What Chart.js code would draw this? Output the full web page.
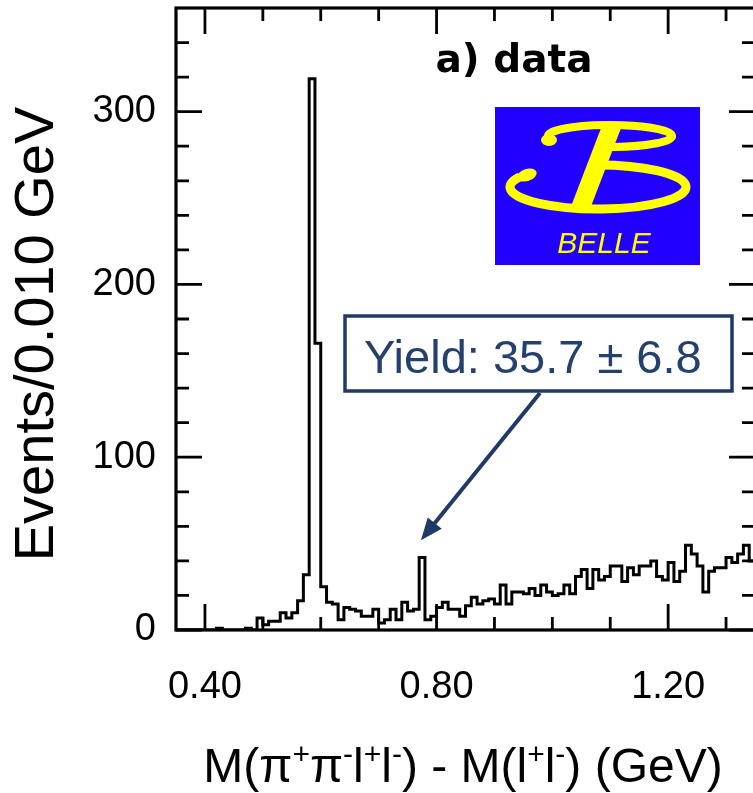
<!DOCTYPE html>
<html>
<head>
<meta charset="utf-8">
<script src="https://cdn.jsdelivr.net/npm/chart.js@4.4.0/dist/chart.umd.min.js"></script>
<style>
  html, body { margin: 0; padding: 0; background: #fff; overflow: hidden; }
  #wrap { position: relative; width: 756px; height: 793px; }
</style>
</head>
<body>
<div id="wrap"><canvas id="chart" width="756" height="793"></canvas></div>
<script>
// ---------- Data ----------
const binStart = 0.35;   // GeV, left edge of first bin
const binWidth = 0.010;  // GeV
const counts = [
  0, 0, 0, 0, 0, 0, 0, 1, 0, 0,          // 0.35 - 0.45
  0, 0, 1, 0, 7, 3, 5, 5, 10, 7,         // 0.45 - 0.55
  10, 17, 32, 319, 166, 25, 16, 15, 6, 13, // 0.55 - 0.65
  12, 11, 8, 8, 12, 4, 6, 12, 6, 16,     // 0.65 - 0.75
  11, 12, 42, 6, 8, 13, 16, 12, 12, 8,   // 0.75 - 0.85
  14, 19, 15, 17, 18, 15, 26, 15, 22, 22, // 0.85 - 0.95
  21, 24, 20, 26, 22, 20, 21, 26, 21, 31, // 0.95 - 1.05
  35, 24, 35, 29, 31, 37, 37, 28, 36, 32, // 1.05 - 1.15
  37, 37, 40, 31, 29, 39, 28, 34, 49, 44, // 1.15 - 1.25
  37, 22, 34, 36, 36, 42, 39, 44, 49, 40  // 1.25 - 1.35
];

const xRange = [0.35, 1.35];
const yRange = [0, 360];
const xTickValues = [0.40, 0.80, 1.20];
const xTickLabels = ["0.40", "0.80", "1.20"];
const xMinorTicks = [0.4, 0.5, 0.6, 0.7, 0.8, 0.9, 1.0, 1.1, 1.2, 1.3];
const yTickValues = [0, 100, 200, 300];
const yTickLabels = ["0", "100", "200", "300"];
const yMinorTicks = [20, 40, 60, 80, 100, 120, 140, 160, 180, 200, 220, 240, 260, 280, 300, 320, 340];

const yTitle = "Events/0.010 GeV";
// [text, isSuperscript]
const xTitleParts = [
  ["M(\u03c0", 0], ["+", 1], ["\u03c0", 0], ["-", 1], ["l", 0], ["+", 1], ["l", 0], ["-", 1],
  [") - M(l", 0], ["+", 1], ["l", 0], ["-", 1], [") (GeV)", 0]
];
const panelLabel = "a) data";
const yieldText = "Yield: 35.7 \u00b1 6.8";
const arrowTarget = [0.773, 52]; // GeV, events

const FONT = '"Liberation Sans", Arial, Helvetica, sans-serif';
const NAVY = "#203a68";

// ---------- Histogram points (left bin edges + closing edge) ----------
const histPoints = counts.map((c, i) => ({ x: binStart + i * binWidth, y: c }));
histPoints.push({ x: binStart + counts.length * binWidth, y: counts[counts.length - 1] });

const near = (a, b) => Math.abs(a - b) < 1e-6;

// ---------- Frame, inward ticks, titles and decorations ----------
const decor = {
  id: "decor",
  afterDatasetsDraw(chart) {
    const { ctx, chartArea: a, scales: { x, y } } = chart;
    ctx.save();
    ctx.strokeStyle = "#000";
    ctx.lineWidth = 3.2;
    ctx.strokeRect(a.left, a.top, a.right - a.left, a.bottom - a.top);

    ctx.lineWidth = 2.8;
    ctx.beginPath();
    xMinorTicks.forEach((v) => {
      const px = x.getPixelForValue(v);
      const len = xTickValues.some((t) => near(t, v)) ? 26 : 13;
      ctx.moveTo(px, a.bottom); ctx.lineTo(px, a.bottom - len);
      ctx.moveTo(px, a.top); ctx.lineTo(px, a.top + len);
    });
    yMinorTicks.concat([0]).forEach((v) => {
      const py = y.getPixelForValue(v);
      const len = yTickValues.some((t) => near(t, v)) ? 26 : 13;
      ctx.moveTo(a.left, py); ctx.lineTo(a.left + len, py);
      ctx.moveTo(a.right, py); ctx.lineTo(a.right - len, py);
    });
    ctx.stroke();
    ctx.restore();
  },
  afterDraw(chart) {
    const { ctx, scales: { x, y } } = chart;
    ctx.save();
    ctx.fillStyle = "#000";

    // y title
    ctx.save();
    ctx.translate(38, 334);
    ctx.rotate(-Math.PI / 2);
    ctx.font = "56px " + FONT;
    ctx.textAlign = "center";
    ctx.textBaseline = "middle";
    ctx.fillText(yTitle, 0, 0);
    ctx.restore();

    // x title with superscripts
    const base = "48px " + FONT, sup = "30px " + FONT;
    let total = 0;
    xTitleParts.forEach(([t, s]) => { ctx.font = s ? sup : base; total += ctx.measureText(t).width; });
    let cx = 463 - total / 2;
    ctx.textBaseline = "alphabetic";
    ctx.textAlign = "left";
    xTitleParts.forEach(([t, s]) => {
      ctx.font = s ? sup : base;
      ctx.fillText(t, cx, s ? 764 : 782);
      cx += ctx.measureText(t).width;
    });

    // panel label
    ctx.font = "bold 39px 'DejaVu Sans', sans-serif";
    ctx.textAlign = "center";
    ctx.fillText(panelLabel, 514, 72);

    // Belle logo
    const L = 495, T = 107;
    ctx.fillStyle = "#2200ff";
    ctx.fillRect(L, T, 205, 158);
    ctx.strokeStyle = "#ffff00";
    ctx.fillStyle = "#ffff00";
    ctx.lineWidth = 8;
    ctx.beginPath();
    ctx.ellipse(L + 115, T + 29, 62, 11, 0, Math.PI * 0.98, Math.PI * 2.52);
    ctx.stroke();
    ctx.beginPath();
    ctx.ellipse(L + 54, T + 33, 8, 6, 0, 0, Math.PI * 2);
    ctx.fill();
    ctx.lineWidth = 9;
    ctx.beginPath();
    ctx.ellipse(L + 103, T + 80, 88, 22, 0, -1.62, Math.PI + 0.48);
    ctx.stroke();
    ctx.beginPath();
    ctx.ellipse(L + 32, T + 68, 10, 6, -0.3, 0, Math.PI * 2);
    ctx.fill();
    ctx.beginPath();
    ctx.moveTo(L + 108, T + 16); ctx.lineTo(L + 128, T + 16);
    ctx.lineTo(L + 95, T + 102); ctx.lineTo(L + 75, T + 102);
    ctx.closePath();
    ctx.fill();
    ctx.font = "italic 30px " + FONT;
    ctx.textAlign = "center";
    ctx.fillText("BELLE", L + 109, T + 146);

    // yield box
    ctx.strokeStyle = NAVY;
    ctx.lineWidth = 3.5;
    ctx.strokeRect(345, 316, 387, 75);
    ctx.fillStyle = "#24406e";
    ctx.font = "47px " + FONT;
    ctx.textAlign = "left";
    ctx.fillText(yieldText, 364, 373);

    // arrow
    const x0 = 540, y0 = 393;
    const x1 = x.getPixelForValue(arrowTarget[0]);
    const y1 = y.getPixelForValue(arrowTarget[1]);
    const dx = x1 - x0, dy = y1 - y0, d = Math.hypot(dx, dy);
    const ux = dx / d, uy = dy / d, hl = 22, hw = 9;
    ctx.strokeStyle = NAVY;
    ctx.fillStyle = NAVY;
    ctx.lineWidth = 4;
    ctx.beginPath();
    ctx.moveTo(x0, y0);
    ctx.lineTo(x1 - ux * hl * 0.8, y1 - uy * hl * 0.8);
    ctx.stroke();
    ctx.beginPath();
    ctx.moveTo(x1, y1);
    ctx.lineTo(x1 - ux * hl - uy * hw, y1 - uy * hl + ux * hw);
    ctx.lineTo(x1 - ux * hl + uy * hw, y1 - uy * hl - ux * hw);
    ctx.closePath();
    ctx.fill();

    ctx.restore();
  }
};

// ---------- Chart ----------
new Chart(document.getElementById("chart"), {
  type: "line",
  data: {
    datasets: [{
      data: histPoints,
      stepped: true,
      borderColor: "#000",
      borderWidth: 3,
      pointRadius: 0,
      fill: false
    }]
  },
  options: {
    responsive: false,
    animation: false,
    layout: { padding: { top: 8, right: 1, left: 0, bottom: 0 } },
    plugins: { legend: { display: false }, tooltip: { enabled: false } },
    scales: {
      x: {
        type: "linear",
        min: xRange[0],
        max: xRange[1],
        grid: { display: false, drawTicks: false },
        border: { display: false },
        afterBuildTicks: (s) => { s.ticks = xTickValues.map((v) => ({ value: v })); },
        afterFit: (s) => { s.height = 163; s.paddingLeft = 0; s.paddingRight = 0; },
        ticks: {
          callback: (v, i) => xTickLabels[i],
          font: { family: FONT, size: 38 },
          color: "#000",
          padding: 35,
          maxRotation: 0,
          autoSkip: false
        }
      },
      y: {
        type: "linear",
        min: yRange[0],
        max: yRange[1],
        grid: { display: false, drawTicks: false },
        border: { display: false },
        afterBuildTicks: (s) => { s.ticks = yTickValues.map((v) => ({ value: v })); },
        afterFit: (s) => { s.width = 176; s.paddingTop = 0; s.paddingBottom = 0; },
        ticks: {
          callback: (v, i) => yTickLabels[i],
          font: { family: FONT, size: 38 },
          color: "#000",
          padding: 20,
          autoSkip: false
        }
      }
    }
  },
  plugins: [decor]
});
</script>
</body>
</html>
